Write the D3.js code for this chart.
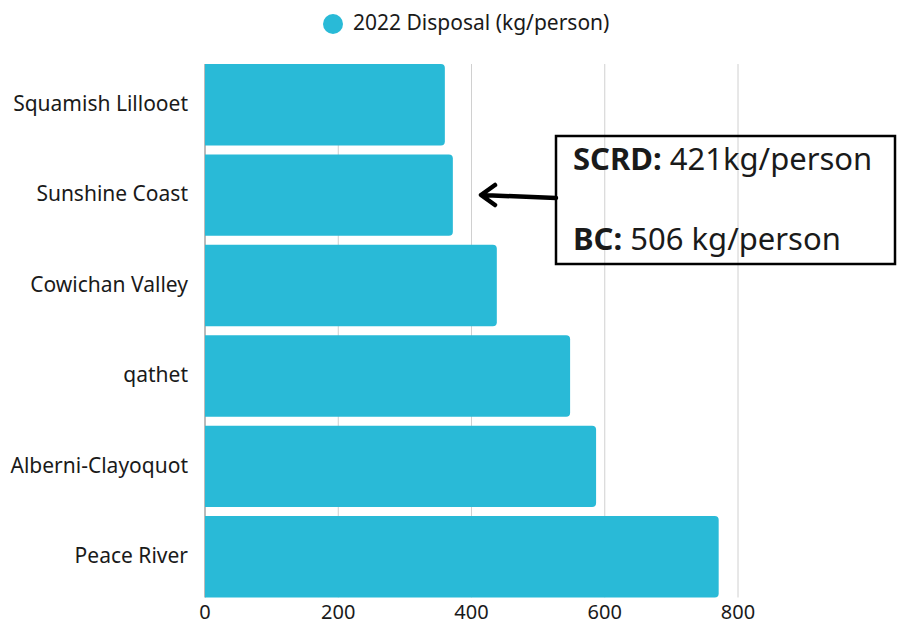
<!DOCTYPE html>
<html>
<head>
<meta charset="utf-8">
<script src="https://cdn.jsdelivr.net/npm/d3@7"></script>
<style>
  body { margin: 0; background: #fff; }
  text { font-family: "Noto Sans", "Open Sans", sans-serif; fill: #1a1a1a; }
</style>
</head>
<body>
<div id="chart"></div>
<script>
// Dados do gráfico
const regions = ["Squamish Lillooet", "Sunshine Coast", "Cowichan Valley", "qathet", "Alberni-Clayoquot", "Peace River"]
const disposal = [360, 372, 438, 548, 587, 771]
const xTicks = [0, 200, 400, 600, 800]
const seriesName = "2022 Disposal (kg/person)"
const noteLines = [["SCRD:", " 421kg/person"], ["BC:", " 506 kg/person"]]

const W = 900, H = 625
const color = "#29bad7"

const svg = d3.select("#chart").append("svg")
    .attr("width", W)
    .attr("height", H)

// Escalas
const x = d3.scaleLinear().domain([0, 800]).range([205, 738])
const y = d3.scaleBand().domain(regions).range([59.5, 602]).paddingInner(0.1).paddingOuter(0.05)

const gridTop = y(regions[0]), gridBottom = y(regions[regions.length - 1]) + y.bandwidth()

// Linhas de grade verticais
svg.append("g")
    .selectAll("line")
    .data(xTicks.slice(1))
    .join("line")
    .attr("x1", d => x(d)).attr("x2", d => x(d))
    .attr("y1", gridTop).attr("y2", gridBottom)
    .attr("stroke", "#d0d0d0")
    .attr("stroke-width", 1)

// Eixo Y (linha)
svg.append("line")
    .attr("x1", x(0)).attr("x2", x(0))
    .attr("y1", gridTop).attr("y2", gridBottom)
    .attr("stroke", "#777")
    .attr("stroke-width", 1)

// Barras com cantos arredondados à direita
const r = 4
svg.append("g")
    .selectAll("path")
    .data(regions)
    .join("path")
    .attr("fill", color)
    .attr("d", (d, i) => {
        const x0 = x(0), x1 = x(disposal[i]), y0 = y(d), y1 = y(d) + y.bandwidth()
        return `M${x0},${y0}H${x1 - r}Q${x1},${y0} ${x1},${y0 + r}V${y1 - r}Q${x1},${y1} ${x1 - r},${y1}H${x0}Z`
    })

// Rótulos das categorias
svg.append("g")
    .selectAll("text")
    .data(regions)
    .join("text")
    .attr("x", 188)
    .attr("y", d => y(d) + y.bandwidth() / 2 - 1)
    .attr("dy", "0.35em")
    .attr("text-anchor", "end")
    .attr("font-size", 21)
    .text(d => d)

// Eixo X (rótulos)
svg.append("g")
    .selectAll("text")
    .data(xTicks)
    .join("text")
    .attr("x", d => x(d))
    .attr("y", 619)
    .attr("text-anchor", "middle")
    .attr("font-size", 20)
    .text(d => d)

// Legenda
svg.append("circle").attr("cx", 333).attr("cy", 24).attr("r", 10).attr("fill", color)
svg.append("text").attr("x", 353).attr("y", 30).attr("font-size", 21).text(seriesName)

// Caixa de anotação
svg.append("rect")
    .attr("x", 556).attr("y", 136)
    .attr("width", 339).attr("height", 128)
    .attr("fill", "none")
    .attr("stroke", "#000")
    .attr("stroke-width", 2.5)

const note = svg.append("g")
noteLines.forEach((l, i) => {
    const t = note.append("text")
        .attr("x", 573)
        .attr("y", 170 + i * 80)
        .attr("font-size", 31)
    t.append("tspan").attr("font-weight", "bold").text(l[0])
    t.append("tspan").text(l[1])
})

// Seta
svg.append("path")
    .attr("d", "M556,198L481,195M495,185L481,195L495,205")
    .attr("fill", "none")
    .attr("stroke", "#000")
    .attr("stroke-width", 4.5)
    .attr("stroke-linecap", "round")
    .attr("stroke-linejoin", "round")
</script>
</body>
</html>
